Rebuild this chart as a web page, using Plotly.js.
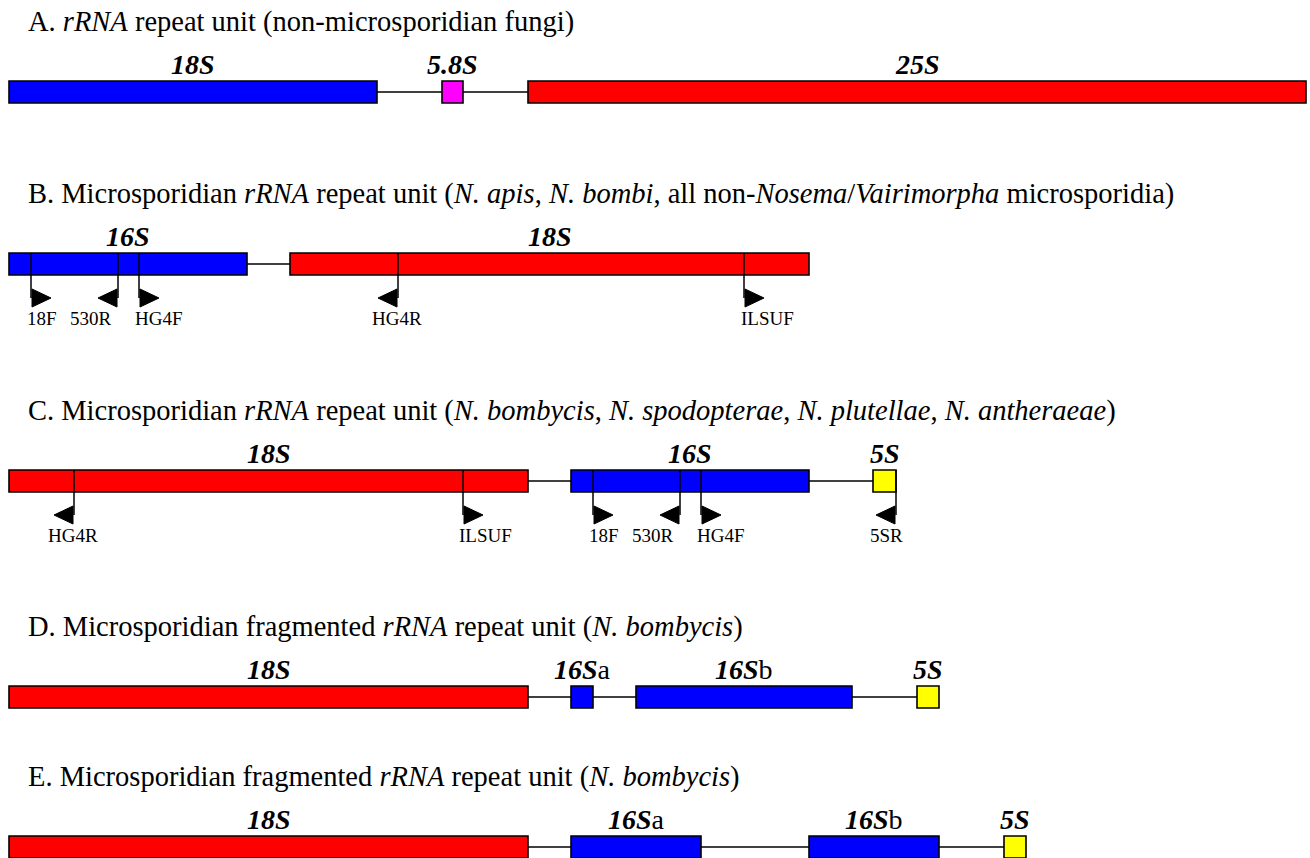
<!DOCTYPE html>
<html>
<head>
<meta charset="utf-8">
<script src="https://cdn.plot.ly/plotly-3.0.1.min.js"></script>
<style>
  html, body { margin: 0; padding: 0; background: #ffffff; }
  #chart { width: 1310px; height: 858px; }
</style>
</head>
<body>
<div id="chart"></div>
<script>
// ---------------- DATA ----------------
const rowIds = ['A', 'B', 'C', 'D', 'E'];
const rowTitles = [
  'A. <i>rRNA</i> repeat unit (non-microsporidian fungi)',
  'B. Microsporidian <i>rRNA</i> repeat unit (<i>N. apis</i>, <i>N. bombi</i>, all non-<i>Nosema</i>/<i>Vairimorpha</i> microsporidia)',
  'C. Microsporidian <i>rRNA</i> repeat unit (<i>N. bombycis</i>, <i>N. spodopterae</i>, <i>N. plutellae</i>, <i>N. antheraeae</i>)',
  'D. Microsporidian fragmented <i>rRNA</i> repeat unit (<i>N. bombycis</i>)',
  'E. Microsporidian fragmented <i>rRNA</i> repeat unit (<i>N. bombycis</i>)'
];

const geneRow    = ['A', 'A', 'A', 'B', 'B', 'C', 'C', 'C', 'D', 'D', 'D', 'D', 'E', 'E', 'E', 'E'];
const geneName   = ['18S', '5.8S', '25S', '16S', '18S', '18S', '16S', '5S', '18S', '16S', '16S', '5S', '18S', '16S', '16S', '5S'];
const geneSuffix = ['', '', '', '', '', '', '', '', '', 'a', 'b', '', '', 'a', 'b', ''];
const geneClass  = ['ssu', '58s', 'lsu', 'ssu', 'lsu', 'lsu', 'ssu', '5s', 'lsu', 'ssu', 'ssu', '5s', 'lsu', 'ssu', 'ssu', '5s'];
const geneStart  = [9, 442, 528, 9, 290, 9, 571, 873, 9, 571, 636, 917, 9, 571, 809, 1004];
const geneEnd    = [377, 463, 1306, 247, 809, 528, 809, 896, 528, 593, 852, 939, 528, 701, 939, 1026];

const primerRow  = ['B', 'B', 'B', 'B', 'B', 'C', 'C', 'C', 'C', 'C', 'C'];
const primerName = ['18F', '530R', 'HG4F', 'HG4R', 'ILSUF', 'HG4R', 'ILSUF', '18F', '530R', 'HG4F', '5SR'];
const primerPos  = [31, 118, 139, 398, 744, 74, 463, 593, 680, 701, 896];
const primerDir  = [1, -1, 1, -1, 1, -1, 1, 1, -1, 1, -1];

// ---------------- LAYOUT / STYLE ----------------
const rowCenter = { A: 92, B: 264, C: 481, D: 697, E: 847 };
const classColor = { ssu: '#0000FF', lsu: '#FF0000', '58s': '#FF00FF', '5s': '#FFFF00' };
const primerLabelDx = [11, -27, 20, -1, 23, -1, 22, 11, -27, 20, -10];
const BAR_H = 22, TITLE_DY = -70, GENE_LABEL_DY = -28;
const ARROW_DY = 34, ARROW_LEN = 19, ARROW_HALF = 9, PLABEL_DY = 54;
const FONT = '"Liberation Serif", "Times New Roman", Times, serif';

const shapes = [];
const annotations = [];

// connector lines
rowIds.forEach(r => {
  const starts = [], ends = [];
  geneRow.forEach((g, i) => { if (g === r) { starts.push(geneStart[i]); ends.push(geneEnd[i]); } });
  const yc = rowCenter[r];
  shapes.push({ type: 'line', xref: 'x', yref: 'y', x0: Math.min(...starts), x1: Math.max(...ends),
    y0: yc, y1: yc, line: { color: '#000', width: 1.5 } });
});

// gene boxes and labels
geneName.forEach((name, i) => {
  const yc = rowCenter[geneRow[i]];
  shapes.push({ type: 'rect', xref: 'x', yref: 'y', x0: geneStart[i], x1: geneEnd[i],
    y0: yc - BAR_H / 2, y1: yc + BAR_H / 2,
    fillcolor: classColor[geneClass[i]], line: { color: '#000', width: 1.6 } });
  annotations.push({ xref: 'x', yref: 'y', x: (geneStart[i] + geneEnd[i]) / 2, y: yc + GENE_LABEL_DY,
    text: '<b><i>' + name + '</i></b>' + geneSuffix[i], showarrow: false,
    xanchor: 'center', yanchor: 'middle', borderpad: 0,
    font: { family: FONT, size: 28, color: '#000' } });
});

// primers
primerName.forEach((name, i) => {
  const yc = rowCenter[primerRow[i]];
  const x = primerPos[i], d = primerDir[i];
  const ya = yc + ARROW_DY;
  shapes.push({ type: 'line', xref: 'x', yref: 'y', x0: x, x1: x, y0: yc - BAR_H / 2, y1: ya,
    line: { color: '#000', width: 1.5 } });
  const bx = x + d * 1, tx = x + d * (ARROW_LEN + 1);
  shapes.push({ type: 'path', xref: 'x', yref: 'y',
    path: `M ${bx},${ya - ARROW_HALF} L ${bx},${ya + ARROW_HALF} L ${tx},${ya} Z`,
    fillcolor: '#000', line: { color: '#000', width: 1 } });
  annotations.push({ xref: 'x', yref: 'y', x: x + primerLabelDx[i], y: yc + PLABEL_DY,
    text: name, showarrow: false, xanchor: 'center', yanchor: 'middle', borderpad: 0,
    font: { family: FONT, size: 19, color: '#000' } });
});

// row titles
rowIds.forEach((r, i) => {
  annotations.push({ xref: 'x', yref: 'y', x: 27, y: rowCenter[r] + TITLE_DY,
    text: rowTitles[i], showarrow: false, xanchor: 'left', yanchor: 'middle', borderpad: 0,
    font: { family: FONT, size: 28.5, color: '#000' } });
});

const layout = {
  width: 1310, height: 858,
  margin: { l: 0, r: 0, t: 0, b: 0, pad: 0 },
  paper_bgcolor: '#ffffff', plot_bgcolor: '#ffffff',
  showlegend: false,
  xaxis: { range: [0, 1310], visible: false, fixedrange: true },
  yaxis: { range: [858, 0], visible: false, fixedrange: true },
  shapes: shapes,
  annotations: annotations
};

Plotly.newPlot('chart', [{ x: [], y: [], type: 'scatter', mode: 'markers', hoverinfo: 'skip' }], layout,
  { staticPlot: true, displayModeBar: false });
</script>
</body>
</html>
